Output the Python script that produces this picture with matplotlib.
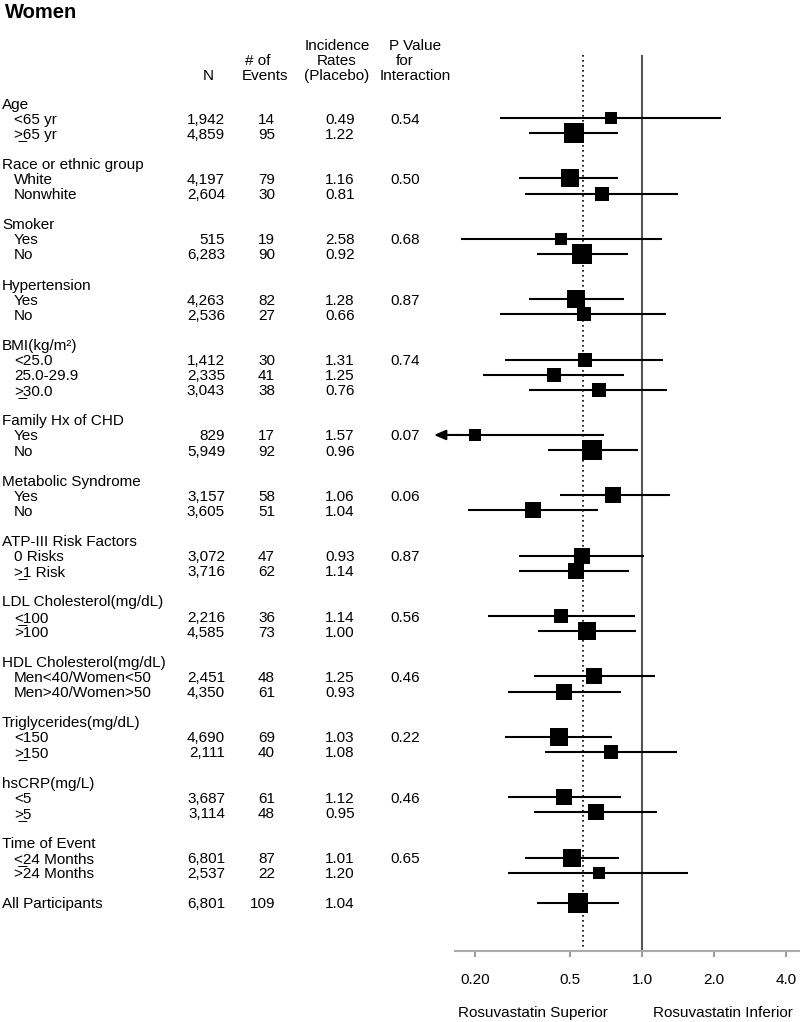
import matplotlib
matplotlib.use("Agg")
import matplotlib.pyplot as plt
import matplotlib.transforms as mtransforms
from matplotlib.ticker import NullLocator, FixedLocator, FixedFormatter

plt.rcParams['font.family'] = ['Liberation Sans', 'DejaVu Sans']

UL = "\u0332"  # combining underline
OL = "\u0305"  # combining overline

# ---------------- data ----------------
title = "Women"
group_names = ["Age", "Race or ethnic group", "Smoker", "Hypertension", "BMI(kg/m\u00b2)",
               "Family Hx of CHD", "Metabolic Syndrome", "ATP-III Risk Factors",
               "LDL Cholesterol(mg/dL)", "HDL Cholesterol(mg/dL)", "Triglycerides(mg/dL)",
               "hsCRP(mg/L)", "Time of Event"]
group_sizes = [2, 2, 2, 2, 3, 2, 2, 2, 2, 2, 2, 2, 2]
group_pvalues = ["0.54", "0.50", "0.68", "0.87", "0.74", "0.07", "0.06", "0.87",
                 "0.56", "0.46", "0.22", "0.46", "0.65"]
sub_labels = ["<65 yr", ">" + UL + "65 yr",
              "White", "Nonwhite",
              "Yes", "No",
              "Yes", "No",
              "<25.0", "25.0-29.9", ">" + UL + "30.0",
              "Yes", "No",
              "Yes", "No",
              "0 Risks", ">" + UL + "1 Risk",
              "<" + UL + "100", ">" + OL + "100",
              "Men<40/Women<50", "Men>40/Women>50",
              "<150", ">" + UL + "150",
              "<5", ">" + UL + "5",
              "<" + UL + "24 Months", ">" + OL + "24 Months"]
total_label = "All Participants"

n_values = [1942, 4859, 4197, 2604, 515, 6283, 4263, 2536, 1412, 2335, 3043, 829, 5949,
            3157, 3605, 3072, 3716, 2216, 4585, 2451, 4350, 4690, 2111, 3687, 3114, 6801, 2537]
events = [14, 95, 79, 30, 19, 90, 82, 27, 30, 41, 38, 17, 92, 58, 51, 47, 62, 36, 73,
          48, 61, 69, 40, 61, 48, 87, 22]
incidence = [0.49, 1.22, 1.16, 0.81, 2.58, 0.92, 1.28, 0.66, 1.31, 1.25, 0.76, 1.57, 0.96,
             1.06, 1.04, 0.93, 1.14, 1.14, 1.00, 1.25, 0.93, 1.03, 1.08, 1.12, 0.95, 1.01, 1.20]
hr = [0.74, 0.52, 0.50, 0.68, 0.46, 0.56, 0.53, 0.57, 0.58, 0.43, 0.66, 0.20, 0.62,
      0.76, 0.35, 0.56, 0.53, 0.46, 0.59, 0.63, 0.47, 0.45, 0.74, 0.47, 0.64, 0.51, 0.66]
ci_low = [0.255, 0.337, 0.306, 0.324, 0.175, 0.364, 0.337, 0.255, 0.268, 0.216, 0.337, 0.135,
          0.405, 0.454, 0.187, 0.306, 0.306, 0.227, 0.367, 0.354, 0.275, 0.268, 0.393, 0.275,
          0.354, 0.324, 0.275]
ci_high = [2.14, 0.794, 0.794, 1.41, 1.21, 0.874, 0.841, 1.26, 1.22, 0.841, 1.27, 0.694,
           0.962, 1.31, 0.655, 1.02, 0.882, 0.935, 0.944, 1.13, 0.817, 0.749, 1.40, 0.817,
           1.155, 0.80, 1.56]
total_n = 6801
total_events = 109
total_incidence = 1.04
total_hr = 0.54
total_low = 0.364
total_high = 0.80
overall_ref = 0.565

tick_values = [0.2, 0.5, 1.0, 2.0, 4.0]
tick_labels = ["0.20", "0.5", "1.0", "2.0", "4.0"]
left_note = "Rosuvastatin Superior"
right_note = "Rosuvastatin Inferior"
header_N = ["N"]
header_events = ["# of", "Events"]
header_inc = ["Incidence", "Rates", "(Placebo)"]
header_p = ["P Value", "for", "Interaction"]

# ---------------- layout ----------------
W, H = 800, 1022
fig = plt.figure(figsize=(W / 100, H / 100), dpi=100)
ROW0, ROWH = 103.0, 15.09
AX_LEFT, AX_RIGHT, AX_TOP, AX_BOT = 455, 800, 40, 951
ax = fig.add_axes([AX_LEFT / W, 1 - AX_BOT / H, (AX_RIGHT - AX_LEFT) / W, (AX_BOT - AX_TOP) / H])
ax.set_xscale('log')
PX_PER_DOUBLING = 72.0
x_one = 642.0
xlo = 2 ** ((AX_LEFT - x_one) / PX_PER_DOUBLING)
xhi = 2 ** ((AX_RIGHT - x_one) / PX_PER_DOUBLING)
ax.set_xlim(xlo, xhi)
ybot = (AX_BOT - ROW0) / ROWH
ytop = (AX_TOP - ROW0) / ROWH
ax.set_ylim(ybot, ytop)

# row positions
group_rows, sub_rows = [], []
r = 0
for k in group_sizes:
    group_rows.append(r)
    sub_rows.extend(range(r + 1, r + 1 + k))
    r += k + 2
total_row = r

tr = mtransforms.blended_transform_factory(fig.transFigure, ax.transData)
FS = 11.0
TY = 0.1  # small vertical nudge of text relative to marks

def px(x):
    return x / W

# group headers and p-values
for g, y, p in zip(group_names, group_rows, group_pvalues):
    fig.text(px(2), y + TY, g, transform=tr, fontsize=FS, va='center', ha='left')
    fig.text(px(390), y + 1 + TY, p, transform=tr, fontsize=FS, va='center', ha='left')

for lab, y, n, e, inc in zip(sub_labels, sub_rows, n_values, events, incidence):
    fig.text(px(14), y + TY, lab, transform=tr, fontsize=FS, va='center', ha='left')
    fig.text(px(225), y + TY, f"{n:,}", transform=tr, fontsize=FS, va='center', ha='right')
    fig.text(px(275), y + TY, f"{e}", transform=tr, fontsize=FS, va='center', ha='right')
    fig.text(px(325), y + TY, f"{inc:.2f}", transform=tr, fontsize=FS, va='center', ha='left')

fig.text(px(2), total_row + TY, total_label, transform=tr, fontsize=FS, va='center', ha='left')
fig.text(px(225), total_row + TY, f"{total_n:,}", transform=tr, fontsize=FS, va='center', ha='right')
fig.text(px(275), total_row + TY, f"{total_events}", transform=tr, fontsize=FS, va='center', ha='right')
fig.text(px(325), total_row + TY, f"{total_incidence:.2f}", transform=tr, fontsize=FS, va='center', ha='left')

# column headers
hdr_rows = [-3.8, -2.8, -1.8]
for t, y in zip(header_N, hdr_rows[2:]):
    fig.text(px(208), y, t, transform=tr, fontsize=FS, va='center', ha='center')
for t, y, xx in zip(header_events, hdr_rows[1:], [258, 265]):
    fig.text(px(xx), y, t, transform=tr, fontsize=FS, va='center', ha='center')
for t, y in zip(header_inc, hdr_rows):
    fig.text(px(337), y, t, transform=tr, fontsize=FS, va='center', ha='center')
for t, y, xx in zip(header_p, hdr_rows, [415, 405, 415]):
    fig.text(px(xx), y, t, transform=tr, fontsize=FS, va='center', ha='center')

fig.text(px(5), 1 - 12 / H, title, fontsize=14.5, fontweight='bold', va='center', ha='left')

# reference lines
vtop = (55 - ROW0) / ROWH
ax.vlines(1.0, vtop, ybot, color='#555555', lw=1.5, zorder=1)
ax.vlines(overall_ref, vtop, ybot, color='black', lw=1.2, linestyles=[(0, (1, 2))], zorder=1)

# forest marks
all_rows = sub_rows + [total_row]
all_hr = hr + [total_hr]
all_lo = ci_low + [total_low]
all_hi = ci_high + [total_high]
all_ev = events + [total_events]
for y, h, lo, hi, e in zip(all_rows, all_hr, all_lo, all_hi, all_ev):
    size_px = 10.8 + 0.093 * e
    if lo < xlo:
        ax.hlines(y, xlo, hi, color='black', lw=1.5, zorder=2)
        ax.annotate('', xy=(lo, y), xytext=(xlo * 1.05, y), annotation_clip=False,
                    arrowprops=dict(arrowstyle='-|>,head_length=0.7,head_width=0.3',
                                    color='black', lw=1.5, shrinkA=0, shrinkB=0))
    else:
        ax.hlines(y, lo, hi, color='black', lw=1.5, zorder=2)
    ax.plot([h], [y], marker='s', ms=size_px * 0.72, color='black', mec='black', mew=0, zorder=3)

# axes styling
for s in ['top', 'left', 'right']:
    ax.spines[s].set_visible(False)
ax.spines['bottom'].set_color('#aaaaaa')
ax.spines['bottom'].set_linewidth(1.5)
ax.set_yticks([])
ax.xaxis.set_major_locator(FixedLocator(tick_values))
ax.xaxis.set_major_formatter(FixedFormatter(tick_labels))
ax.xaxis.set_minor_locator(NullLocator())
ax.tick_params(axis='x', direction='out', length=4.5, width=1.2, color='#888888',
               labelsize=FS, pad=11)
ax.patch.set_alpha(0)

fig.text(px(533), 1 - 1013 / H, left_note, fontsize=FS, ha='center', va='center')
fig.text(px(723), 1 - 1013 / H, right_note, fontsize=FS, ha='center', va='center')

fig.savefig("out.png", dpi=100)
